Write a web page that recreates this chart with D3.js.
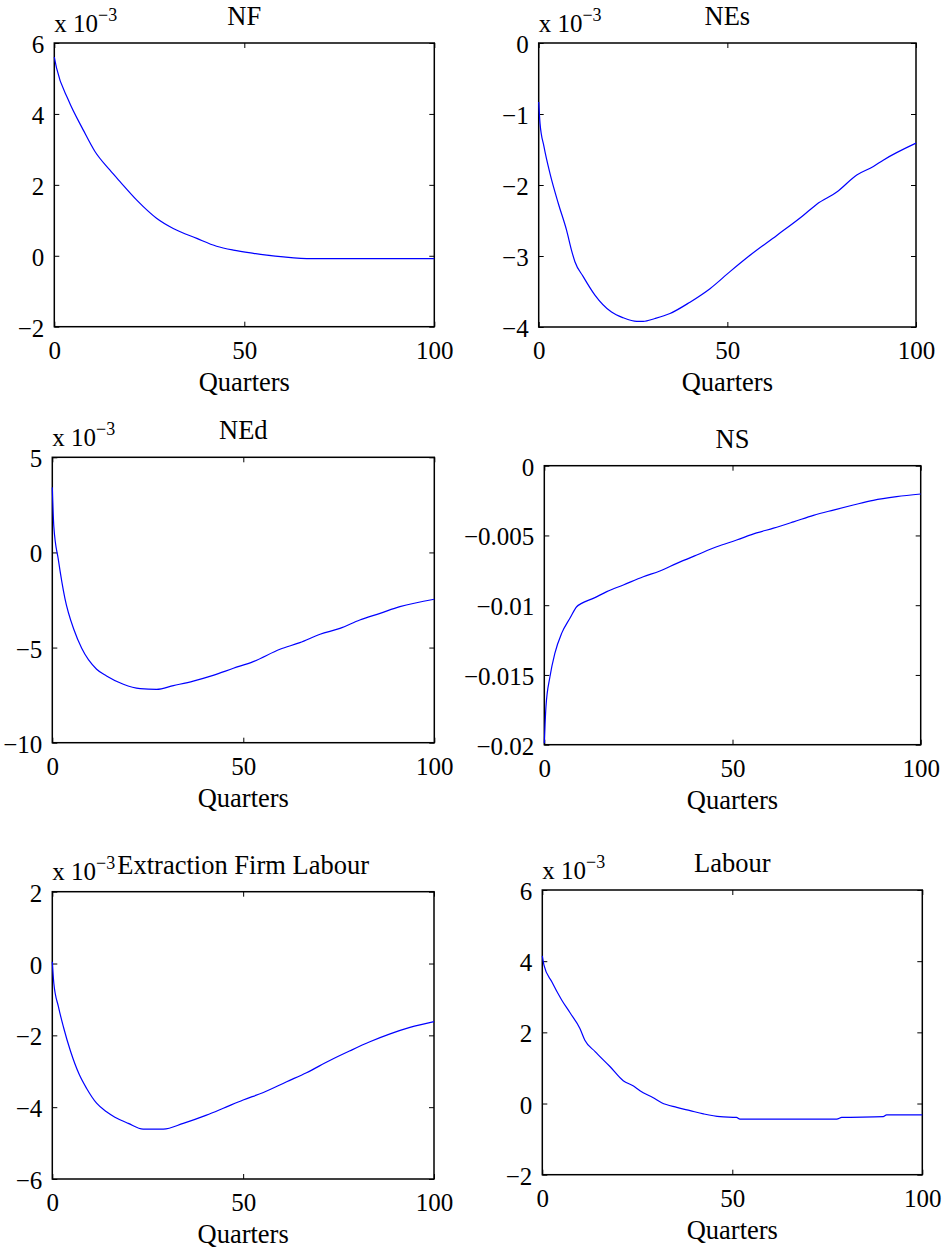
<!DOCTYPE html>
<html>
<head>
<meta charset="utf-8">
<script src="https://cdn.jsdelivr.net/npm/d3@7"></script>
<style>
  body { margin: 0; background: #fff; }
</style>
</head>
<body>
<div id="main"></div>
<script>
// data (x = quarters, y in the units shown on each axis)
var nfQ = [0, 0.6, 3.7, 7.6, 10.7, 14.6, 17.3, 21.7, 26.9, 31.3, 37.5, 42.7, 47.1, 52.4, 55.9, 60.3, 67.7, 100];
var nfV = [5.60, 5.29, 4.39, 3.55, 2.94, 2.42, 2.09, 1.57, 1.06, 0.77, 0.49, 0.27, 0.16, 0.07, 0.02, -0.03, -0.08, -0.08];

var nesQ = [0, 0.35, 1.4, 3, 5.2, 7.4, 8.7, 9.6, 11.8, 14.9, 19.3, 22.4, 26, 27.7, 30.8, 34.8, 40.1, 45.4, 50.7, 56, 63.1, 70.1, 73.7, 79, 84.3, 88.7, 91.3, 100];
var nesV = [-0.83, -1.13, -1.46, -1.84, -2.26, -2.64, -2.92, -3.08, -3.29, -3.55, -3.79, -3.87, -3.92, -3.92, -3.88, -3.81, -3.65, -3.46, -3.22, -2.99, -2.71, -2.43, -2.27, -2.10, -1.86, -1.74, -1.65, -1.41];

var nedQ = [0, 0.4, 1.6, 3.3, 5.7, 7.7, 11.6, 14.2, 18.6, 23, 27.3, 31.7, 36.9, 42.1, 47.4, 52.6, 59.6, 64.8, 70.1, 75.3, 80.5, 85.8, 91, 100];
var nedV = [3.42, 1.36, -0.40, -2.41, -4.08, -5.04, -6.14, -6.49, -6.93, -7.16, -7.20, -7.00, -6.76, -6.46, -6.09, -5.74, -5.09, -4.74, -4.30, -3.99, -3.55, -3.20, -2.85, -2.46];

var nsQ = [0, 0.44, 1.5, 2.8, 4.6, 6.8, 8.6, 9.9, 13, 16.6, 21, 26.3, 30.7, 35.2, 40.5, 45.8, 51.1, 56.4, 60.9, 66.2, 71.5, 76.8, 82.1, 87.4, 93.6, 100];
var nsV = [-0.0199, -0.01728, -0.01513, -0.01345, -0.01202, -0.01094, -0.01011, -0.00987, -0.00951, -0.00903, -0.00855, -0.00796, -0.00755, -0.00700, -0.00640, -0.00581, -0.00533, -0.00482, -0.00448, -0.00403, -0.00356, -0.00318, -0.00282, -0.00248, -0.00222, -0.00203];

var eflQ = [0, 0.4, 1.6, 2.9, 4.8, 7.1, 9, 11.6, 14.2, 16.4, 19.9, 23.8, 29.1, 34.3, 40.4, 44.8, 50, 55.3, 61.4, 66.6, 72.7, 78, 83.2, 88.5, 93.7, 100];
var eflV = [0.05, -0.55, -1.20, -1.76, -2.45, -3.10, -3.48, -3.89, -4.13, -4.28, -4.45, -4.61, -4.61, -4.45, -4.22, -4.03, -3.80, -3.59, -3.29, -3.04, -2.70, -2.43, -2.18, -1.96, -1.78, -1.62];

var labQ = [0, 0.44, 2.5, 5.1, 7.3, 9.9, 11.2, 13.9, 17.8, 21.3, 24, 25.7, 29.2, 31.4, 35.4, 38.9, 42.4, 46.8, 51.1, 52, 77.5, 78.8, 89.7, 90.6, 100];
var labV = [4.15, 3.89, 3.42, 2.91, 2.55, 2.11, 1.78, 1.46, 1.04, 0.64, 0.49, 0.36, 0.16, 0.02, -0.11, -0.20, -0.29, -0.37, -0.39, -0.44, -0.44, -0.39, -0.37, -0.32, -0.32];

var titles = ["NF", "NEs", "NEd", "NS", "Extraction Firm Labour", "Labour"];
var xTicks = [0, 50, 100];
var nfTicks = [-2, 0, 2, 4, 6];
var nesTicks = [-4, -3, -2, -1, 0];
var nedTicks = [-10, -5, 0, 5];
var nsTicks = [-0.02, -0.015, -0.01, -0.005, 0];
var eflTicks = [-6, -4, -2, 0, 2];
var labTicks = [-2, 0, 2, 4, 6];

// layout of the six axes boxes [left, top, right, bottom]
var panels = [
  { q: nfQ,  v: nfV,  ticks: nfTicks,  exp: true,  box: [54.3, 43, 434.3, 326.7] },
  { q: nesQ, v: nesV, ticks: nesTicks, exp: true,  box: [538.7, 43, 916, 327] },
  { q: nedQ, v: nedV, ticks: nedTicks, exp: true,  box: [52.3, 457.3, 434.3, 742.7] },
  { q: nsQ,  v: nsV,  ticks: nsTicks,  exp: false, box: [544.3, 465.7, 920.7, 744.7] },
  { q: eflQ, v: eflV, ticks: eflTicks, exp: true,  box: [52.3, 891.7, 434, 1179] },
  { q: labQ, v: labV, ticks: labTicks, exp: true,  box: [542.3, 890, 922.3, 1174.7] }
];

var FONT = '"Liberation Serif", "Times New Roman", Times, serif';
var fmt = function(d) { return String(d).replace("-", "\u2212"); };

var svg = d3.select('#main').append('svg')
    .attr('width', 945).attr('height', 1254);

panels.forEach(function(p, i) {
  var x0 = p.box[0], y0 = p.box[1], w = p.box[2] - p.box[0], h = p.box[3] - p.box[1];
  var x = d3.scaleLinear().domain([0, 100]).range([0, w]);
  var y = d3.scaleLinear().domain(d3.extent(p.ticks)).range([h, 0]);

  var g = svg.append('g').attr('transform', 'translate(' + x0 + ',' + y0 + ')');

  g.append('g').attr('transform', 'translate(0,' + h + ')')
      .call(d3.axisBottom(x).tickValues(xTicks).tickFormat(fmt).tickSizeInner(-5).tickSizeOuter(0).tickPadding(14.5));
  var left = g.append('g')
      .call(d3.axisLeft(y).tickValues(p.ticks).tickFormat(fmt).tickSizeInner(-5).tickSizeOuter(0).tickPadding(10));
  g.append('g').call(d3.axisTop(x).tickValues(xTicks).tickFormat('').tickSizeInner(-5).tickSizeOuter(0));
  g.append('g').attr('transform', 'translate(' + w + ',0)')
      .call(d3.axisRight(y).tickValues(p.ticks).tickFormat('').tickSizeInner(-5).tickSizeOuter(0));

  g.selectAll('.domain').remove();
  g.selectAll('.tick line').attr('stroke', '#000').attr('stroke-width', 1);
  g.selectAll('.tick text').style('font-family', FONT).style('font-size', '25px').attr('fill', '#000');
  left.selectAll('.tick text').attr('dy', '0.38em');

  g.append('rect').attr('width', w).attr('height', h)
      .attr('fill', 'none').attr('stroke', '#000').attr('stroke-width', 1.5);

  var line = d3.line()
      .x(function(d, j) { return x(p.q[j]); })
      .y(function(d) { return y(d); })
      .curve(d3.curveMonotoneX);
  g.append('path').datum(p.v)
      .attr('d', line)
      .attr('fill', 'none').attr('stroke', '#0000ff').attr('stroke-width', 1.2);

  g.append('text').attr('x', w / 2).attr('y', -18)
      .attr('text-anchor', 'middle')
      .style('font-family', FONT).style('font-size', '26.5px')
      .text(titles[i]);

  g.append('text').attr('x', w / 2).attr('y', h + 64)
      .attr('text-anchor', 'middle')
      .style('font-family', FONT).style('font-size', '26.5px')
      .text('Quarters');

  if (p.exp) {
    var t = g.append('text').attr('x', 0).attr('y', -11.5)
        .style('font-family', FONT).style('font-size', '25px');
    t.append('tspan').text('x 10');
    t.append('tspan').attr('dy', -11).style('font-size', '18px').text('\u22123');
  }
});
</script>
</body>
</html>
